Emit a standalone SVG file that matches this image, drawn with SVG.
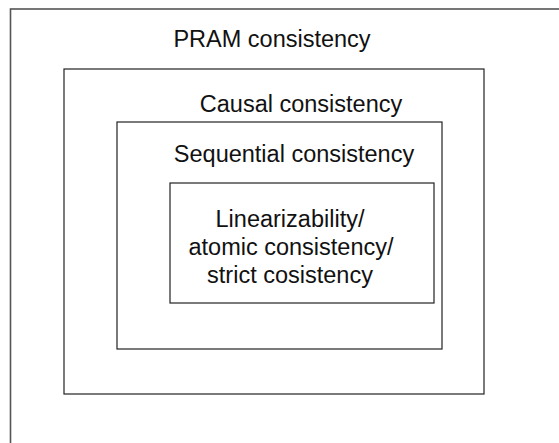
<svg xmlns="http://www.w3.org/2000/svg" width="559" height="443" viewBox="0 0 559 443">
<style>
.box{fill:none;stroke:#222;stroke-width:1.2}
.outer{fill:none;stroke:#555;stroke-width:1.6}
.t{font-family:"Liberation Sans",Arial,Helvetica,sans-serif;font-size:23.5px;fill:#111;text-anchor:middle}
</style>
<rect width="559" height="443" fill="#fff"/>
<g id="pram"><rect class="outer" x="10.5" y="9" width="600" height="500"/><text class="t" x="272" y="47">PRAM consistency</text></g>
<g id="causal"><rect class="box" x="64" y="69" width="420" height="325"/><text class="t" x="301" y="112">Causal consistency</text></g>
<g id="sequential"><rect class="box" x="117" y="122" width="325" height="227"/><text class="t" x="294" y="162">Sequential consistency</text></g>
<g id="linearizability"><rect class="box" x="170" y="183" width="264" height="120"/><text class="t" x="290" y="227">Linearizability/</text><text class="t" x="291" y="255">atomic consistency/</text><text class="t" x="290" y="283">strict cosistency</text></g>
<g id="connectors"/>
</svg>
